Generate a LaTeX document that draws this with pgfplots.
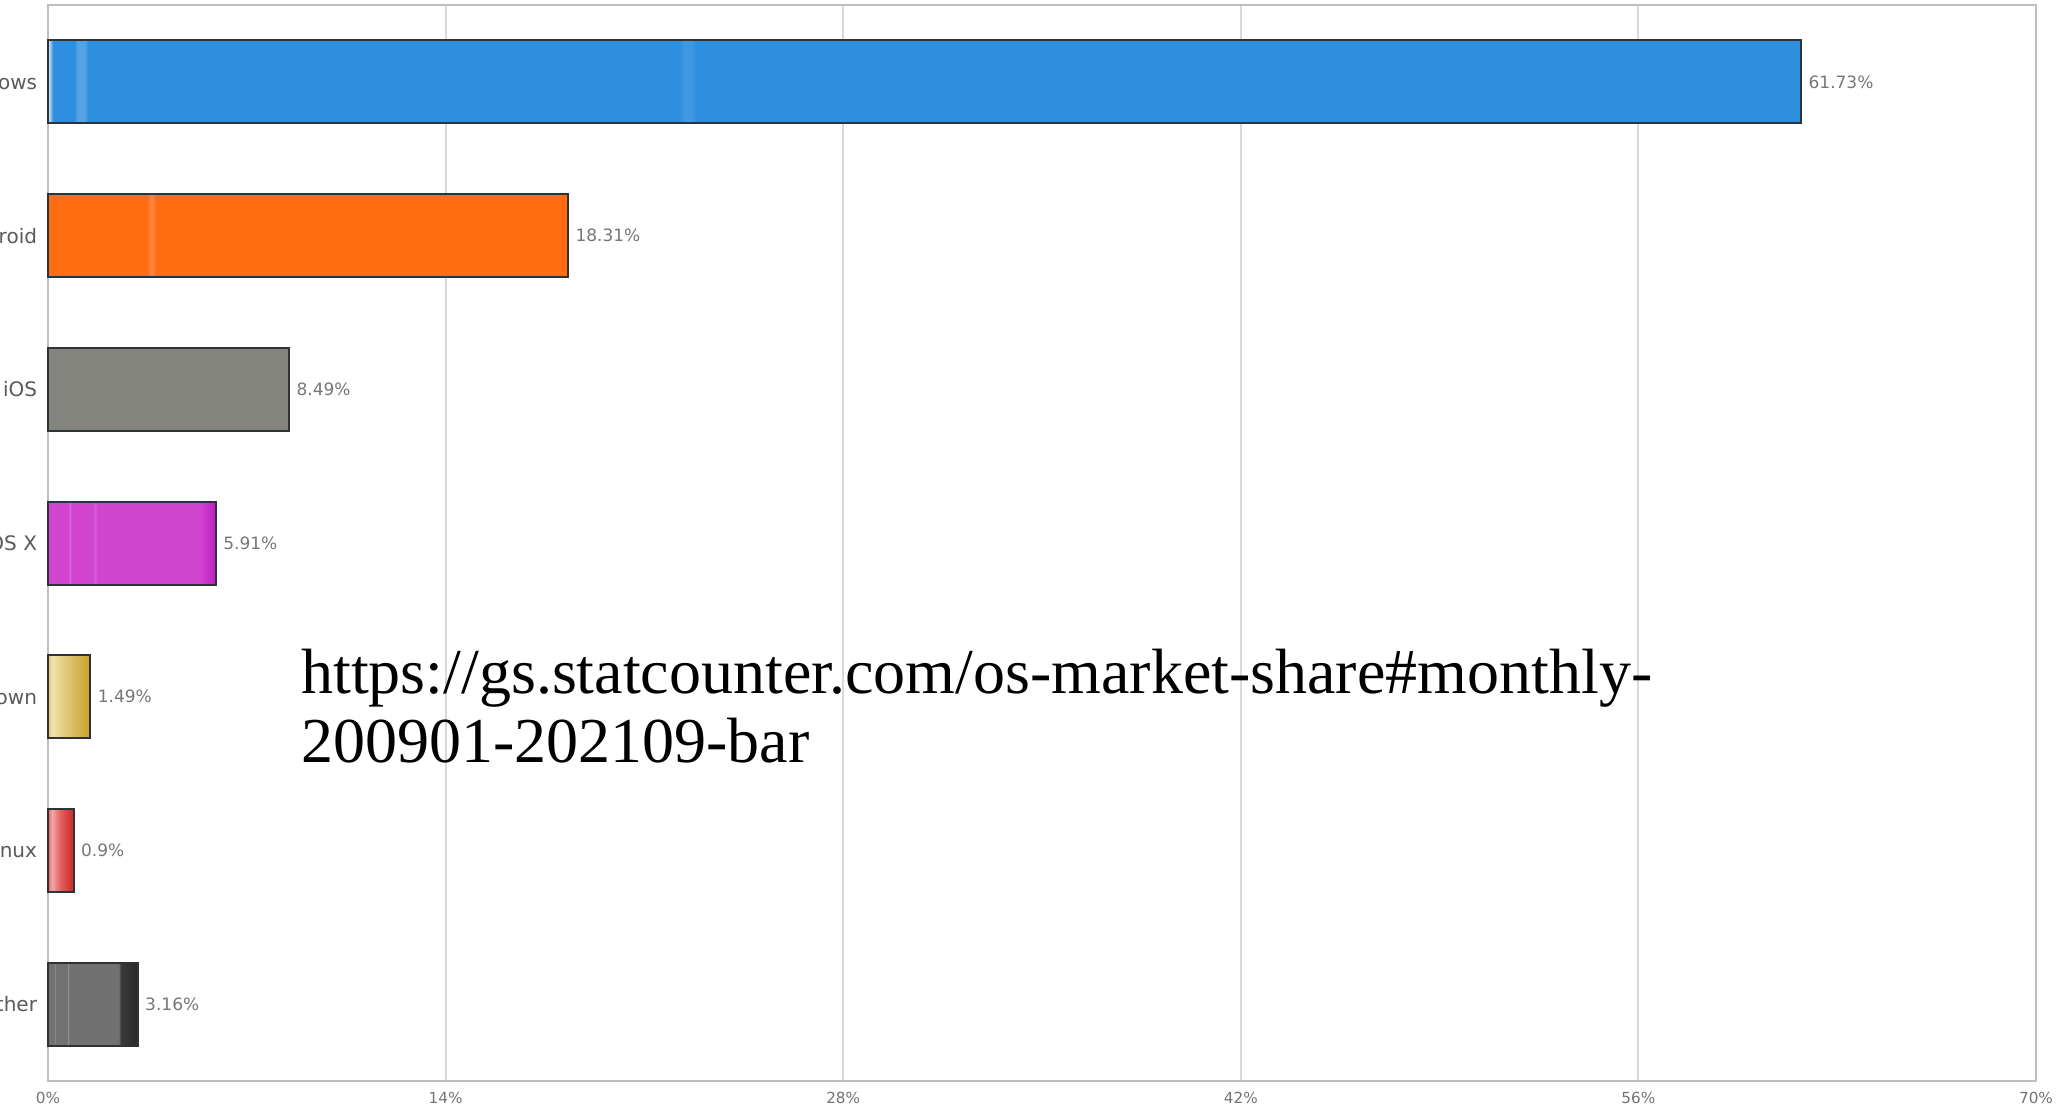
\documentclass[border=0pt]{standalone}
\usepackage{pgfplots}
\pgfplotsset{compat=1.18}
\usepackage{fontspec}
\setmainfont{DejaVu Sans}
\newfontfamily\urlfont{Liberation Serif}
\usetikzlibrary{calc}
\definecolor{gridc}{HTML}{D9D9D9}
\definecolor{axisc}{HTML}{BEBEBE}
\definecolor{tickc}{HTML}{737373}
\definecolor{catc}{HTML}{5A5A5A}
\definecolor{valc}{HTML}{767676}
\definecolor{edgec}{HTML}{2E3338}
\definecolor{winc}{HTML}{2D8FDD}
\definecolor{winS}{HTML}{55A2E4}
\definecolor{winT}{HTML}{3F98E0}
\definecolor{winW}{HTML}{E8F2FB}
\definecolor{andc}{HTML}{FF6D10}
\definecolor{andS}{HTML}{FF8038}
\definecolor{iosc}{HTML}{83847D}
\definecolor{macc}{HTML}{D145CF}
\definecolor{macS}{HTML}{DA62D8}
\definecolor{macR}{HTML}{C21BC5}
\definecolor{unk0}{HTML}{DDC57A}
\definecolor{unk1}{HTML}{F2E4AC}
\definecolor{unk2}{HTML}{E6D188}
\definecolor{unkR}{HTML}{C9A02A}
\definecolor{lin0}{HTML}{E46A6A}
\definecolor{lin1}{HTML}{F6A4A4}
\definecolor{lin2}{HTML}{E25E5E}
\definecolor{linR}{HTML}{D02525}
\definecolor{othc}{HTML}{717171}
\definecolor{othS}{HTML}{959595}
\definecolor{othD}{HTML}{3A3A3A}
\definecolor{othR}{HTML}{2A2A2A}
\pgfdeclarehorizontalshading{winshade}{100bp}{color(0bp)=(winc); color(25bp)=(winW); color(25.15bp)=(winc); color(25.75bp)=(winc); color(25.85bp)=(winS); color(26.05bp)=(winS); color(26.15bp)=(winc); color(43.0bp)=(winc); color(43.15bp)=(winT); color(43.35bp)=(winT); color(43.5bp)=(winc); color(100bp)=(winc)}
\pgfdeclarehorizontalshading{andshade}{100bp}{color(0bp)=(andc); color(34.5bp)=(andc); color(34.8bp)=(andS); color(35.1bp)=(andS); color(35.4bp)=(andc); color(100bp)=(andc)}
\pgfdeclarehorizontalshading{macshade}{100bp}{color(0bp)=(macc); color(31.1bp)=(macc); color(31.4bp)=(macS); color(31.7bp)=(macS); color(32.0bp)=(macc); color(38.6bp)=(macc); color(38.9bp)=(macS); color(39.2bp)=(macS); color(39.5bp)=(macc); color(70bp)=(macc); color(75bp)=(macR); color(100bp)=(macR)}
\pgfdeclarehorizontalshading{unkshade}{100bp}{color(0bp)=(unk0); color(25bp)=(unk0); color(30bp)=(unk1); color(40bp)=(unk2); color(75bp)=(unkR); color(100bp)=(unkR)}
\pgfdeclarehorizontalshading{linshade}{100bp}{color(0bp)=(lin0); color(25bp)=(lin0); color(33bp)=(lin1); color(50bp)=(lin2); color(75bp)=(linR); color(100bp)=(linR)}
\pgfdeclarehorizontalshading{othshade}{100bp}{color(0bp)=(othc); color(28.8bp)=(othc); color(29.0bp)=(othS); color(29.3bp)=(othS); color(29.5bp)=(othc); color(35.9bp)=(othc); color(36.1bp)=(othS); color(36.4bp)=(othS); color(36.6bp)=(othc); color(64.5bp)=(othc); color(65.5bp)=(othD); color(75bp)=(othR); color(100bp)=(othR)}
\begin{document}
\begin{tikzpicture}
\begin{axis}[
  name=ax, scale only axis, width=795.2pt, height=430.4pt,
  xmin=0, xmax=70, ymin=-0.5, ymax=6.5, y dir=reverse,
  xtick={0,14,28,42,56,70},
  xticklabels={0\%,14\%,28\%,42\%,56\%,70\%},
  ytick={0,1,2,3,4,5,6},
  yticklabels={Windows,Android,iOS,Mac OS X,Unknown,Linux,Other},
  major tick length=0pt,
  xmajorgrids, grid style={color=gridc, line width=0.8pt},
  axis line style={color=axisc, line width=0.8pt},
  x tick label style={font=\fontsize{6.1}{7}\selectfont, text=tickc, inner sep=0pt, anchor=north, yshift=-4.3pt},
  y tick label style={font=\fontsize{8}{9}\selectfont, text=catc, inner sep=0pt, anchor=east, xshift=-4.2pt},
  /pgf/number format/assume math mode=true,
  nodes near coords, point meta=explicit symbolic,
  nodes near coords style={font=\fontsize{6.8}{8}\selectfont, text=valc, anchor=west, inner sep=0pt, xshift=2.6pt},
  clip=false,
]
\addplot[xbar, bar width=0.54, draw=edgec, line width=0.8pt, shading=winshade] coordinates {(61.73,0) [61.73\%]};
\addplot[xbar, bar width=0.54, draw=edgec, line width=0.8pt, shading=andshade] coordinates {(18.31,1) [18.31\%]};
\addplot[xbar, bar width=0.54, draw=edgec, line width=0.8pt, fill=iosc] coordinates {(8.49,2) [8.49\%]};
\addplot[xbar, bar width=0.54, draw=edgec, line width=0.8pt, shading=macshade] coordinates {(5.91,3) [5.91\%]};
\addplot[xbar, bar width=0.54, draw=edgec, line width=0.8pt, shading=unkshade] coordinates {(1.49,4) [1.49\%]};
\addplot[xbar, bar width=0.54, draw=edgec, line width=0.8pt, shading=linshade] coordinates {(0.9,5) [0.9\%]};
\addplot[xbar, bar width=0.54, draw=edgec, line width=0.8pt, shading=othshade] coordinates {(3.16,6) [3.16\%]};
\node[anchor=base west, inner sep=0pt, font=\urlfont\fontsize{25.6}{27.6}\selectfont] at (axis cs:8.90,3.976) {https://gs.statcounter.com/os-market-share\#monthly-};
\node[anchor=base west, inner sep=0pt, font=\urlfont\fontsize{25.6}{27.6}\selectfont] at (axis cs:8.90,4.425) {200901-202109-bar};
\end{axis}
\pgfresetboundingbox
\path[use as bounding box] ($(ax.south west)+(-19.2pt,-10.8pt)$) rectangle ($(ax.north east)+(11.2pt,2pt)$);
\end{tikzpicture}
\end{document}
